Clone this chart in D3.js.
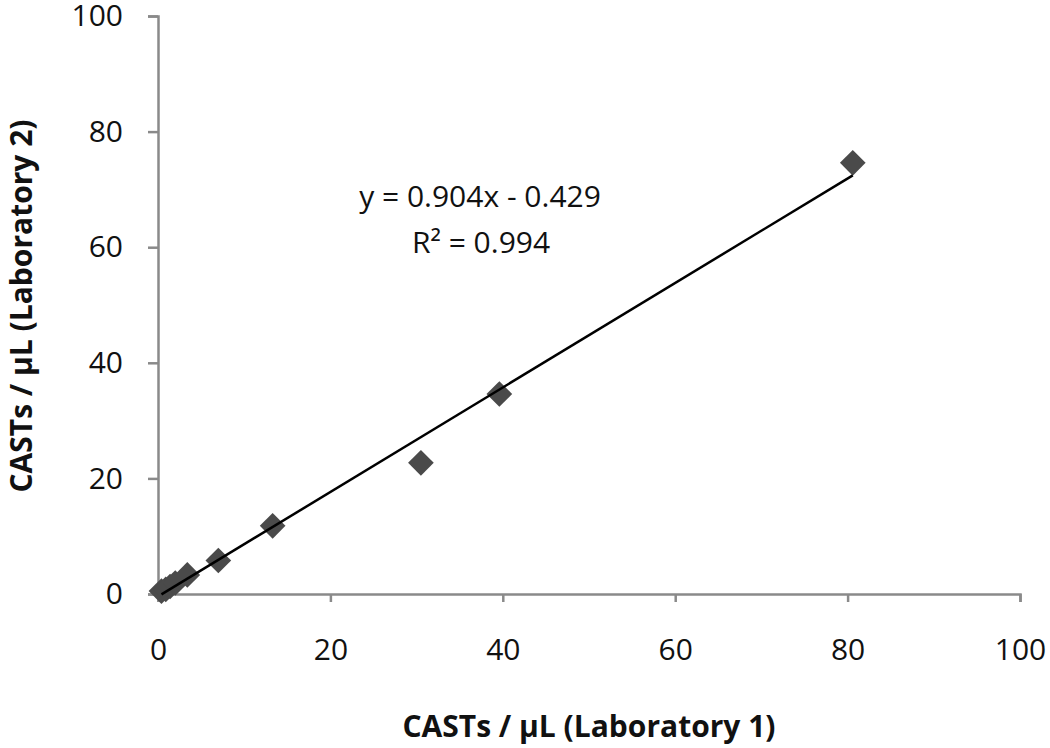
<!DOCTYPE html>
<html>
<head>
<meta charset="utf-8">
<script src="https://cdn.jsdelivr.net/npm/d3@7"></script>
<style>
  body { margin: 0; background: #fff; }
  text { font-family: "Open Sans", "Liberation Sans", sans-serif; fill: #111; }
</style>
</head>
<body>
<div id="chart"></div>
<script>
// data
var lab1 = [0.4, 0.9, 1.4, 2.0, 3.4, 7.0, 13.3, 30.5, 39.6, 80.6];
var lab2 = [0.5, 0.8, 1.3, 1.9, 3.3, 5.8, 11.8, 22.7, 34.6, 74.6];
var xTicks = [0, 20, 40, 60, 80, 100];
var yTicks = [0, 20, 40, 60, 80, 100];
var slope = 0.904;
var intercept = -0.429;
var eqText = "y = 0.904x - 0.429";
var r2Text = "R² = 0.994";

var svgWidth = 1050;
var svgHeight = 748;

var margin = { top: 16, right: 30, bottom: 154, left: 158 };
var width = 1020 - margin.left;
var height = 594 - margin.top;

var svg = d3.select("#chart")
  .append("svg")
  .attr("width", svgWidth)
  .attr("height", svgHeight);

var chartGroup = svg.append("g")
  .attr("transform", `translate(${margin.left}, ${margin.top})`);

var xScale = d3.scaleLinear().domain([0, 100]).range([0, width]);
var yScale = d3.scaleLinear().domain([0, 100]).range([height, 0]);

// axes
var xAxis = chartGroup.append("g")
  .attr("transform", `translate(0, ${height})`)
  .call(d3.axisBottom(xScale).tickValues(xTicks).tickSize(8).tickPadding(37).tickSizeOuter(8));

var yAxis = chartGroup.append("g")
  .call(d3.axisLeft(yScale).tickValues(yTicks).tickSize(10).tickPadding(25).tickSizeOuter(10));

[xAxis, yAxis].forEach(function(ax) {
  ax.select(".domain").attr("stroke", "#8a8a8a").attr("stroke-width", 2.5);
  ax.selectAll(".tick line").attr("stroke", "#8a8a8a").attr("stroke-width", 2.5);
  ax.selectAll(".tick text")
    .attr("font-size", "30px")
    .attr("fill", "#111")
    .style("font-family", "'Open Sans', sans-serif");
});

// trendline over the data range
var xMin = d3.min(lab1), xMax = d3.max(lab1);

// diamond markers
var points = lab1.map(function(v, i) { return { x: v, y: lab2[i] }; });
var diamond = d3.symbol().type(d3.symbolDiamond2).size(420);
chartGroup.selectAll("path.pt")
  .data(points)
  .enter()
  .append("path")
  .attr("class", "pt")
  .attr("d", diamond)
  .attr("transform", d => `translate(${xScale(d.x)}, ${yScale(d.y)})`)
  .attr("fill", "#4a4a4a");

// trendline on top of the markers
chartGroup.append("line")
  .attr("x1", xScale(xMin))
  .attr("y1", yScale(slope * xMin + intercept))
  .attr("x2", xScale(xMax))
  .attr("y2", yScale(slope * xMax + intercept))
  .attr("stroke", "#000")
  .attr("stroke-width", 2.5);

// equation
svg.append("text")
  .attr("x", 480).attr("y", 207)
  .attr("text-anchor", "middle")
  .attr("font-size", "30px")
  .text(eqText);
svg.append("text")
  .attr("x", 481).attr("y", 253)
  .attr("text-anchor", "middle")
  .attr("font-size", "30px")
  .text(r2Text);

// axis titles
svg.append("text")
  .attr("x", 589).attr("y", 737)
  .attr("text-anchor", "middle")
  .attr("font-size", "30px")
  .attr("font-weight", "bold")
  .text("CASTs / μL (Laboratory 1)");

svg.append("text")
  .attr("transform", "rotate(-90)")
  .attr("x", -306).attr("y", 32)
  .attr("text-anchor", "middle")
  .attr("font-size", "30px")
  .attr("font-weight", "bold")
  .text("CASTs / μL (Laboratory 2)");
</script>
</body>
</html>
